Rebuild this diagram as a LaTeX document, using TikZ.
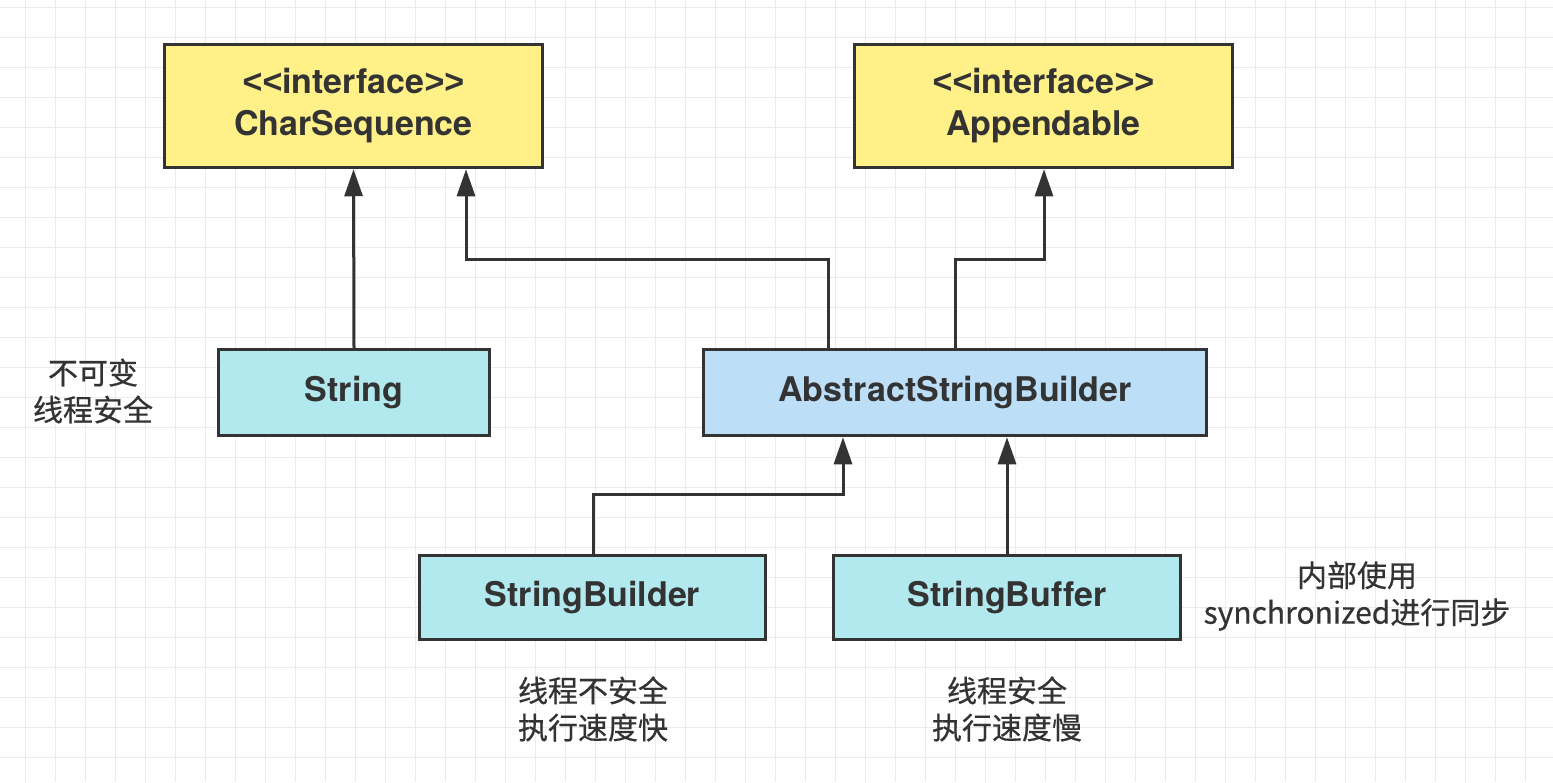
\documentclass[tikz,border=0pt]{standalone}
\usepackage{fontspec}
\setmainfont{TeX Gyre Heros}[Ligatures=NoCommon]
\newfontfamily\lsfont{Liberation Sans}
\newfontfamily\cjkfont{Noto Sans CJK SC}[FakeBold=0.6]
\usetikzlibrary{arrows.meta,calc}
\definecolor{ink}{HTML}{333333}
\definecolor{gridc}{HTML}{EBEBEB}
\definecolor{ifill}{HTML}{FFF088}
\definecolor{cfill}{HTML}{B1E9EE}
\definecolor{afill}{HTML}{BDDEF7}
\newcommand{\stereo}[1]{{\lsfont\bfseries <<}#1{\lsfont\bfseries >>}}
\tikzset{
  cls/.style={draw=ink, line width=3.5pt, rectangle, text=ink, align=center,
    font=\fontsize{34}{42}\selectfont\bfseries, inner sep=0pt},
  note/.style={text=ink, align=center, font=\cjkfont\fontsize{30}{37}\selectfont, inner sep=0pt},
  arr/.style={draw=ink, line width=3pt, -{Triangle[width=18pt,length=27pt]}}
}
\begin{document}
\begin{tikzpicture}[x=1pt,y=-1pt]
\useasboundingbox (0,0) rectangle (1553,782);
\fill[white] (0,0) rectangle (1553,782);
\foreach \x in {25,55,...,1553} \draw[gridc, line width=1pt] (\x,0) -- (\x,782);
\foreach \y in {7,37,...,782} \draw[gridc, line width=1pt] (0,\y) -- (1553,\y);

\node[cls, fill=ifill, minimum width=378pt, minimum height=123pt] (CS) at (353.5,106) {\stereo{interface}\\CharSequence};
\node[cls, fill=ifill, minimum width=378pt, minimum height=123pt] (AP) at (1043.5,106) {\stereo{interface}\\Appendable};
\node[cls, fill=cfill, minimum width=271pt, minimum height=86pt] (ST) at (354,392.5) {String};
\node[cls, fill=afill, minimum width=503pt, minimum height=86pt] (ASB) at (955,392.5) {AbstractStringBuilder};
\node[cls, fill=cfill, minimum width=346pt, minimum height=84pt] (SBd) at (592.5,597.5) {StringBuilder};
\node[cls, fill=cfill, minimum width=347pt, minimum height=84pt] (SBf) at (1007,597.5) {StringBuffer};

\draw[arr] (ST.north) -- (CS.south);
\draw[arr] ([xshift=-127pt]ASB.north) -- ([xshift=-127pt]ASB.north |- 0,259) -| ([xshift=112.5pt]CS.south);
\draw[arr] (ASB.north) -- (ASB.north |- 0,259) -| ([xshift=0.5pt]AP.south);
\draw[arr] ([xshift=0.5pt]SBd.north) -- ([xshift=0.5pt]SBd.north |- 0,494) -| ([xshift=-112pt]ASB.south);
\draw[arr] (SBf.north) -- ([xshift=52pt]ASB.south);

\node[note] (n1) at (93,391) {不可变\\线程安全};
\node[note] (n2) at (593,709) {线程不安全\\执行速度快};
\node[note] (n3) at (1007,709) {线程安全\\执行速度慢};
\node[note] (n4) at (1357,596) {内部使用\\synchronized进行同步};
\end{tikzpicture}
\end{document}
